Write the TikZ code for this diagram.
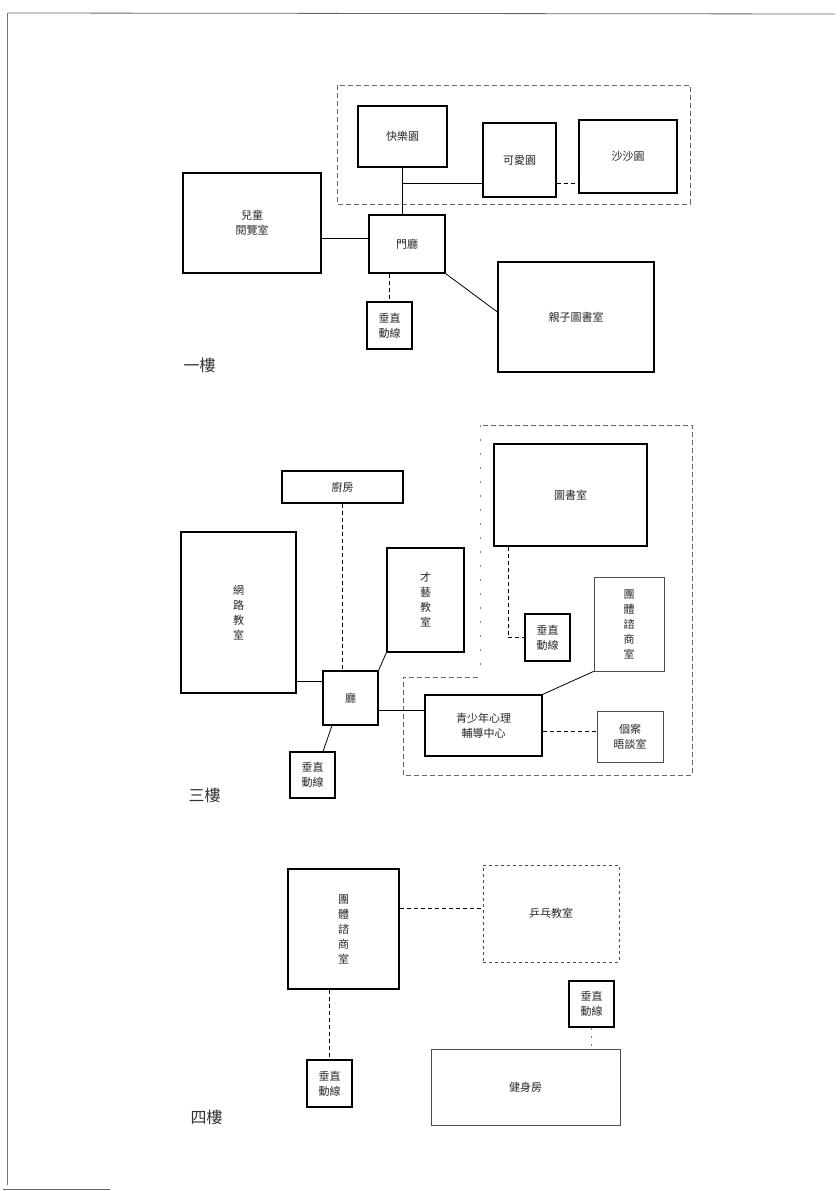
\documentclass[tikz,border=0pt]{standalone}
\usepackage{fontspec}
\newfontfamily\cjk{Noto Sans CJK TC}
\usetikzlibrary{calc}
\begin{document}
\begin{tikzpicture}[x=1pt,y=-1pt,
  room/.style={draw, line width=1.1pt, inner sep=0pt, align=center,
    font=\cjk\fontsize{11}{15}\selectfont, text=black!85},
  faint/.style={draw=black!70, line width=0.8pt},
  conn/.style={line width=0.8pt},
  dconn/.style={line width=0.7pt, dashed, dash pattern=on 4pt off 3pt},
  region/.style={draw=black!60, line width=0.6pt, dash pattern=on 5pt off 3pt},
  floorlabel/.style={font=\cjk\fontsize{16}{18}\selectfont, text=black!80, anchor=west}]
\useasboundingbox (0,0) rectangle (840,1191);
% page frame remnants
\draw[black!60, line width=0.8pt] (8,13) -- (835,14);
\draw[black!55, line width=0.6pt] (7,13) -- (7,1185);
\draw[black!60, line width=0.8pt] (3,1189) -- (110,1189);

% ================= 一樓 =================
\draw[region] (337,85) rectangle (690,204);
\node[room, minimum width=89, minimum height=61] (kl) at (402.5,136.5) {快樂園};
\node[room, minimum width=73, minimum height=74] (ka) at (519.5,160) {可愛園};
\node[room, minimum width=98, minimum height=73] (ss) at (628,156.5) {沙沙園};
\node[room, minimum width=138, minimum height=100] (er) at (252,223) {兒童\\閱覽室};
\node[room, minimum width=76, minimum height=58] (mt) at (407,244) {門廳};
\node[room, minimum width=45, minimum height=47] (cz1) at (389.5,325.5) {垂直\\動線};
\node[room, minimum width=156, minimum height=110] (qz) at (576,317) {親子圖書室};
\node[floorlabel] (f1) at (180,365) {一樓};
\coordinate (j1) at (402.5,183);
\coordinate (y1) at (0,238);
\coordinate (y2) at (0,312);
\draw[conn] (kl.south) -- (j1) -- (j1 -| ka.west);
\draw[dconn] (j1 -| ka.east) -- (j1 -| ss.west);
\draw[conn] (j1) -- (j1 |- mt.north);
\draw[conn] (er.east |- y1) -- (mt.west |- y1);
\draw[dconn] (cz1.north |- mt.south) -- (cz1.north);
\draw[conn] (mt.south east) -- (qz.west |- y2);

% ================= 三樓 =================
\draw[region] (478,677) -- (403,677) -- (403,775) -- (692,775) -- (692,425) -- (482,425);
\draw[black!45, line width=0.6pt, dash pattern=on 2pt off 12pt] (480,425) -- (480,677);
\node[room, minimum width=121, minimum height=32] (cf) at (342.5,487) {廚房};
\node[room, minimum width=115, minimum height=161] (wl) at (238.5,612.5) {網\\路\\教\\室};
\node[room, minimum width=77, minimum height=104] (cy) at (425.5,600) {才\\藝\\教\\室};
\node[room, minimum width=55, minimum height=54] (ting) at (350.5,698) {廳};
\node[room, minimum width=45, minimum height=46] (cz2) at (312.5,775) {垂直\\動線};
\node[room, minimum width=153, minimum height=102] (ts) at (570.5,495) {圖書室};
\node[room, minimum width=45, minimum height=47] (cz3) at (547.5,637.5) {垂直\\動線};
\node[room, faint, minimum width=70, minimum height=94] (tt) at (629,624) {團\\體\\諮\\商\\室};
\node[room, minimum width=117, minimum height=61] (qs) at (483.5,725.5) {青少年心理\\輔導中心};
\node[room, faint, minimum width=66, minimum height=51] (ga) at (630,736.5) {個案\\晤談室};
\node[floorlabel] (f3) at (185,795) {三樓};
\coordinate (y3) at (0,681);
\coordinate (y4) at (0,710);
\coordinate (y5) at (0,731);
\draw[dconn] (cf.south) -- (cf.south |- ting.north);
\draw[conn] (wl.east |- y3) -- (ting.west |- y3);
\draw[conn] (ting.north east) -- (cy.south west);
\draw[conn] ([xshift=-18.5]ting.south) -- ([xshift=10.5]cz2.north);
\draw[conn] (ting.east |- y4) -- (qs.west |- y4);
\draw[conn] (qs.north east) -- (tt.south west);
\draw[dconn] (qs.east |- y5) -- (ga.west |- y5);
\draw[dconn] ([xshift=-62.5]ts.south) |- (cz3.west);

% ================= 四樓 =================
\node[room, minimum width=111, minimum height=120] (t4) at (343.5,929) {團\\體\\諮\\商\\室};
\node[room, faint, dashed, minimum width=136, minimum height=97] (pp) at (551,913.5) {乒乓教室};
\node[room, minimum width=45, minimum height=46] (cz4) at (591.5,1004) {垂直\\動線};
\node[room, faint, minimum width=189, minimum height=76] (js) at (525.5,1087) {健身房};
\node[room, minimum width=45, minimum height=47] (cz5) at (329.5,1083.5) {垂直\\動線};
\node[floorlabel] (f4) at (187,1117) {四樓};
\coordinate (y6) at (0,908);
\draw[dconn] (t4.east |- y6) -- (pp.west |- y6);
\draw[dconn] (cz5.north |- t4.south) -- (cz5.north);
\draw[black!50, line width=0.6pt, dash pattern=on 2pt off 6pt] (cz4.south) -- (cz4.south |- js.north);
\end{tikzpicture}
\end{document}
